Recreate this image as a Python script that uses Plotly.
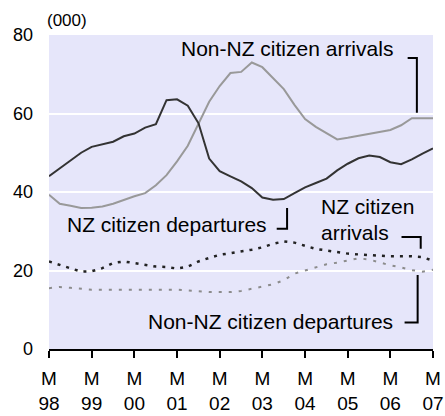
import pandas as pd
import plotly.graph_objects as go

# quarterly readings, March 1998 .. March 2007 (thousands)
dates = pd.date_range("1998-03-01", "2007-03-01", freq="QS-MAR")

nz_departures = [44.0, 46.0, 48.0, 50.0, 51.5, 52.2, 52.8, 54.2, 54.9, 56.4,
                 57.3, 63.4, 63.6, 62.0, 57.5, 48.5, 45.3, 44.0, 42.7, 41.0,
                 38.6, 38.0, 38.2, 39.7, 41.2, 42.3, 43.4, 45.5, 47.2, 48.6,
                 49.3, 48.9, 47.6, 47.1, 48.3, 49.8, 51.1]
non_nz_arrivals = [39.3, 37.0, 36.5, 35.9, 36.0, 36.3, 37.0, 38.0, 38.9, 39.7,
                   41.7, 44.3, 47.8, 51.8, 57.5, 63.0, 67.0, 70.3, 70.6, 73.0,
                   71.8, 69.0, 66.2, 62.2, 58.6, 56.6, 55.0, 53.4, 53.8, 54.3,
                   54.7, 55.2, 55.8, 57.0, 58.8, 58.8, 58.8]
nz_arrivals = [22.3, 21.4, 20.6, 19.7, 19.8, 20.6, 21.9, 22.3, 21.9, 21.5,
               21.0, 20.9, 20.5, 21.0, 22.3, 23.2, 24.0, 24.4, 24.8, 25.3,
               25.9, 26.8, 27.4, 27.1, 26.3, 25.5, 25.1, 24.7, 24.3, 24.1,
               23.9, 23.7, 23.6, 23.6, 23.6, 23.4, 22.5]
non_nz_departures = [15.5, 15.8, 15.6, 15.3, 15.1, 15.1, 15.1, 15.1, 15.1, 15.1,
                     15.1, 15.1, 15.1, 14.9, 14.7, 14.5, 14.5, 14.5, 14.8, 15.3,
                     15.9, 16.5, 17.5, 19.2, 20.0, 20.8, 21.6, 22.0, 22.5, 23.1,
                     22.8, 22.0, 21.3, 20.8, 20.1, 19.7, 20.2]

tick_dates = pd.date_range("1998-03-01", "2007-03-01", freq="12MS")
tick_text = ["M<br>98", "M<br>99", "M<br>00", "M<br>01", "M<br>02",
             "M<br>03", "M<br>04", "M<br>05", "M<br>06", "M<br>07"]

font = "Liberation Sans, Arial, sans-serif"

fig = go.Figure()
fig.add_scatter(x=dates, y=non_nz_arrivals, mode="lines",
                line=dict(color="#999999", width=2))
fig.add_scatter(x=dates, y=nz_departures, mode="lines",
                line=dict(color="#333333", width=2))
fig.add_scatter(x=dates, y=non_nz_departures, mode="lines",
                line=dict(color="#8c8c8c", width=2, dash="3px,7px"))
fig.add_scatter(x=dates, y=nz_arrivals, mode="lines",
                line=dict(color="#222222", width=2.5, dash="3px,6px"))

fig.update_xaxes(
    range=[dates[0], dates[-1]], automargin=False,
    tickvals=tick_dates, ticktext=tick_text, ticklabeloverflow="allow",
    ticks="outside", ticklen=7, tickwidth=2, tickcolor="black",
    showline=True, linecolor="black", linewidth=2,
    showgrid=False, zeroline=False,
    tickfont=dict(size=19, color="black", family=font),
    ticklabelstandoff=4,
)
fig.update_yaxes(
    range=[0, 80], tickvals=[0, 20, 40, 60, 80], automargin=False,
    showgrid=True, gridcolor="white", gridwidth=2,
    zeroline=False, showline=False,
    tickfont=dict(size=18, color="black", family=font),
    ticklabelstandoff=15,
)

def bracket(points):
    path = "M " + " L ".join(f"{x},{y}" for x, y in points)
    fig.add_shape(type="path", path=path, xref="paper", yref="paper",
                  line=dict(color="black", width=2))

bracket([(0.934, 0.927), (0.958, 0.927), (0.958, 0.752)])
bracket([(0.620, 0.449), (0.620, 0.383), (0.593, 0.383)])
bracket([(0.918, 0.357), (0.968, 0.357), (0.968, 0.319)])
bracket([(0.960, 0.236), (0.960, 0.084), (0.926, 0.084)])

def label(text, x, y, anchor):
    fig.add_annotation(text=text, x=x, y=y, xref="paper", yref="paper",
                       xanchor=anchor, yanchor="middle", showarrow=False,
                       font=dict(size=21, color="black", family=font))

label("Non-NZ citizen arrivals", 0.900, 0.958, "right")
label("NZ citizen departures", 0.572, 0.398, "right")
label("NZ citizen", 0.703, 0.453, "left")
label("arrivals", 0.703, 0.370, "left")
label("Non-NZ citizen departures", 0.900, 0.087, "right")

fig.add_annotation(text="(000)", x=-0.01, y=1.046, xref="paper", yref="paper",
                   xanchor="left", yanchor="middle", showarrow=False,
                   font=dict(size=17, color="black", family=font))

fig.update_layout(
    width=445, height=416,
    margin=dict(l=49, r=12, t=35, b=67),
    plot_bgcolor="#E6E6FA", paper_bgcolor="white",
    showlegend=False,
)
# drop the page's default body margin so the figure fills the window
fig.write_html("out.html", config={"displayModeBar": False},
               post_script="document.body.style.margin = '0';")
